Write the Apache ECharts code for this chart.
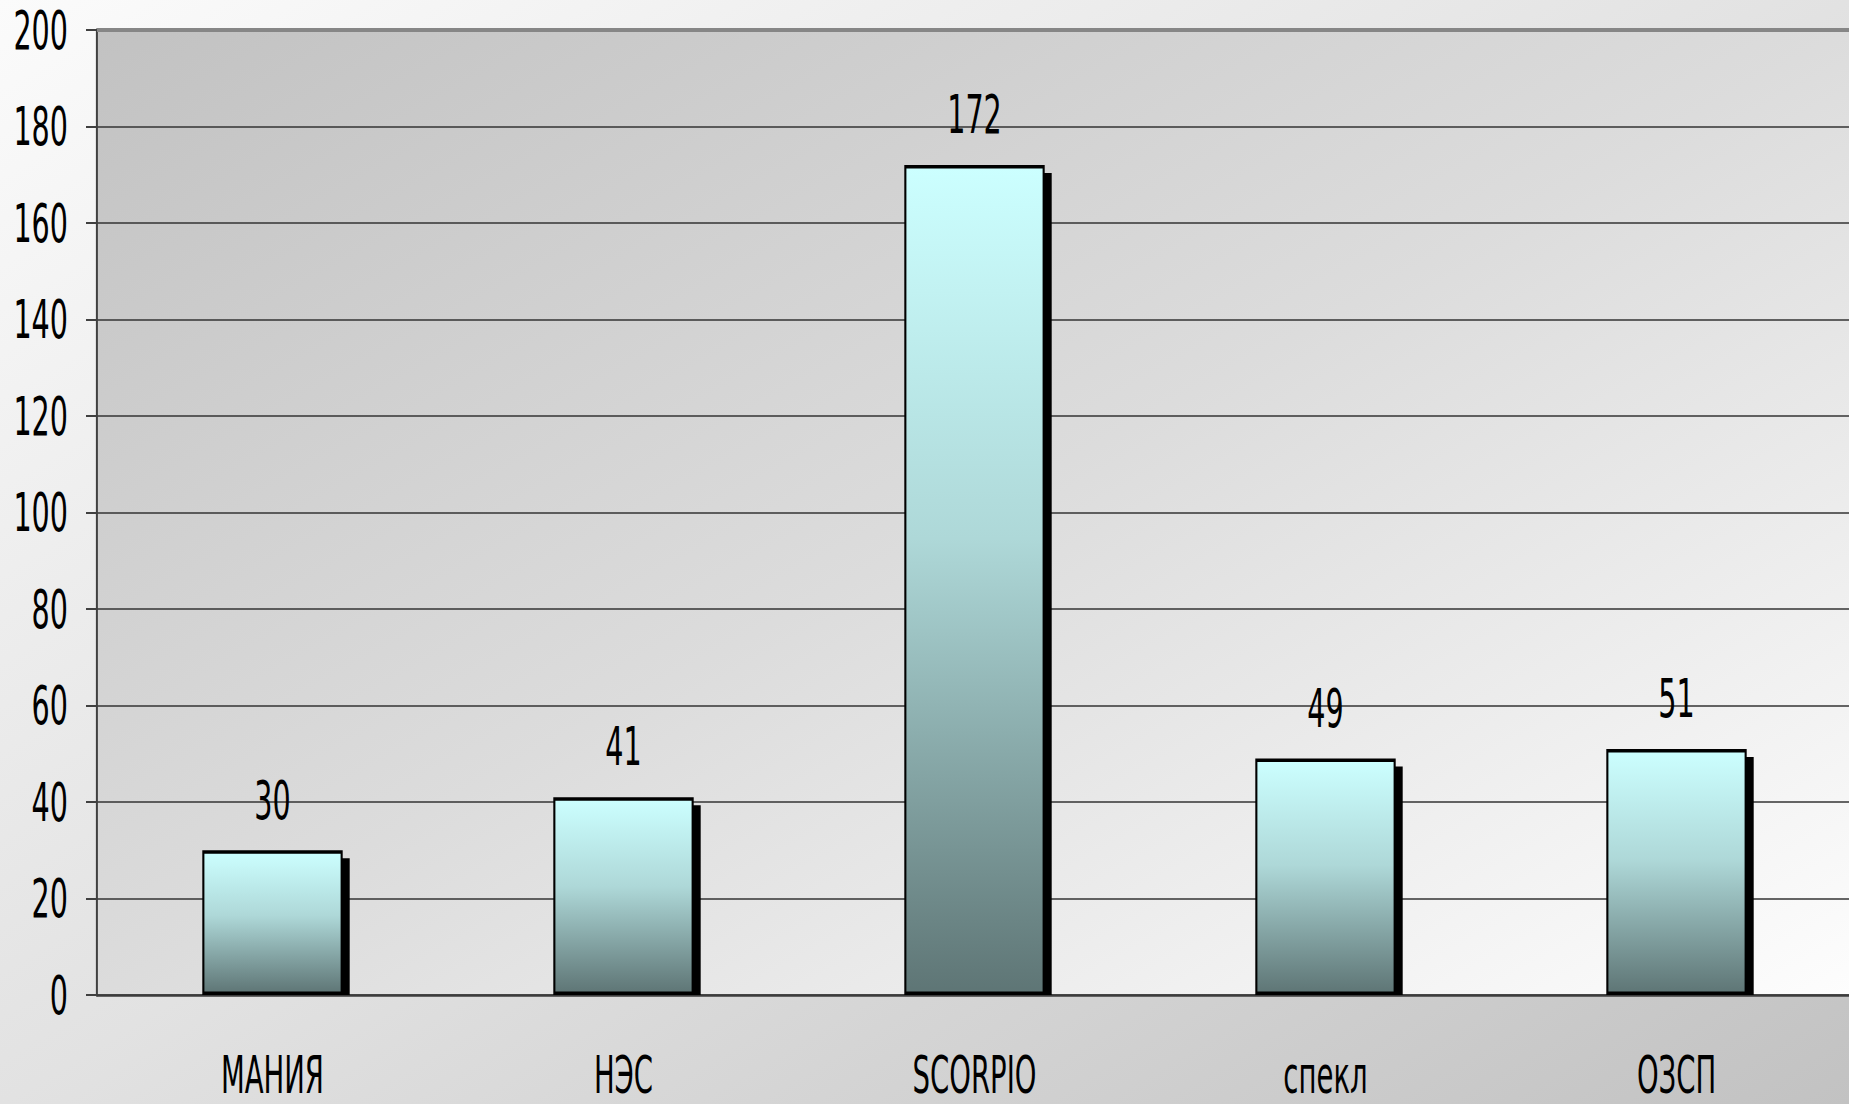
<!DOCTYPE html>
<html lang="ru">
<head>
    <meta charset="UTF-8">
    <title>Bar chart</title>
    <style>
        html, body {
            margin: 0;
            padding: 0;
            width: 1849px;
            height: 1104px;
            overflow: hidden;
            background: linear-gradient(to bottom right, #fbfbfb, #e2e2e2 50%, #c2c2c2);
        }
        /* шрифт в оригинале узкий и вытянутый: рисуем шире и сжимаем по горизонтали */
        #chart {
            width: 3082px;
            height: 1104px;
            transform: scaleX(0.6);
            transform-origin: 0 0;
        }
    </style>
    <script src="https://cdn.jsdelivr.net/npm/echarts@6/dist/echarts.min.js"></script>
</head>
<body>
<div id="chart"></div>
<script>
// данные
const categories = ['МАНИЯ', 'НЭС', 'SCORPIO', 'спекл', 'ОЗСП'];
const values = [30, 41, 172, 49, 51];
const yTicks = { min: 0, max: 200, step: 20 };

const SX = 0.6; // горизонтальное сжатие контейнера
const font = "'DejaVu Sans Condensed', 'Liberation Sans', sans-serif";

const chart = echarts.init(document.getElementById('chart'), null, { renderer: 'svg' });

// тень столбика (сдвиг вправо-вниз, не заходит под ось)
const shadowItem = (params, api) => {
    const top = api.coord([api.value(0), api.value(1)]);
    const base = api.coord([api.value(0), 0]);
    const w = api.size([1, 0])[0] * 0.4;
    return {
        type: 'rect',
        shape: { x: top[0] - w / 2 + 7 / SX, y: top[1] + 8, width: w, height: base[1] - top[1] - 8 },
        style: { fill: '#000' }
    };
};

chart.setOption({
    backgroundColor: 'transparent',
    animation: false,
    grid: {
        left: 97 / SX,
        top: 30,
        width: 1755 / SX,
        height: 965,
        containLabel: false,
        outerBoundsMode: 'none',
        show: true,
        borderWidth: 0,
        backgroundColor: new echarts.graphic.LinearGradient(0, 0, 1, 1, [
            { offset: 0, color: '#c2c2c2' },
            { offset: 0.5, color: '#dcdcdc' },
            { offset: 1, color: '#fdfdfd' }
        ])
    },
    xAxis: {
        type: 'category',
        data: categories,
        axisLine: { lineStyle: { color: '#3c3c3c', width: 2.5 } },
        axisTick: { length: 18, lineStyle: { color: '#808080', width: 2 / SX } },
        axisLabel: { margin: 55, fontSize: 51, fontFamily: font, color: '#000' }
    },
    yAxis: {
        type: 'value',
        min: yTicks.min,
        max: yTicks.max,
        interval: yTicks.step,
        axisLine: { show: true, lineStyle: { color: '#404040', width: 2 / SX } },
        axisTick: { show: true, length: 11 / SX, lineStyle: { color: '#404040', width: 2 } },
        axisLabel: { margin: 29 / SX, fontSize: 53, fontFamily: font, color: '#000' },
        splitLine: { showMaxLine: false, lineStyle: { color: '#333', width: 1.5 } }
    },
    graphic: [{
        type: 'rect',
        shape: { x: 97 / SX, y: 28, width: 1760 / SX, height: 4 },
        style: { fill: '#868686' },
        z: 50
    }],
    series: [
        {
            type: 'custom',
            data: values.map((v, i) => [i, v]),
            renderItem: shadowItem,
            z: 1,
            silent: true
        },
        {
            type: 'bar',
            data: values,
            barWidth: '40%',
            z: 3,
            itemStyle: {
                borderColor: '#000',
                borderWidth: 3.5,
                color: new echarts.graphic.LinearGradient(0, 0, 0, 1, [
                    { offset: 0, color: '#ccffff' },
                    { offset: 0.45, color: '#aed8d8' },
                    { offset: 1, color: '#5e7575' }
                ])
            },
            label: {
                show: true,
                position: 'top',
                distance: 24,
                fontSize: 53,
                fontFamily: font,
                color: '#000'
            }
        }
    ]
});
</script>
</body>
</html>
